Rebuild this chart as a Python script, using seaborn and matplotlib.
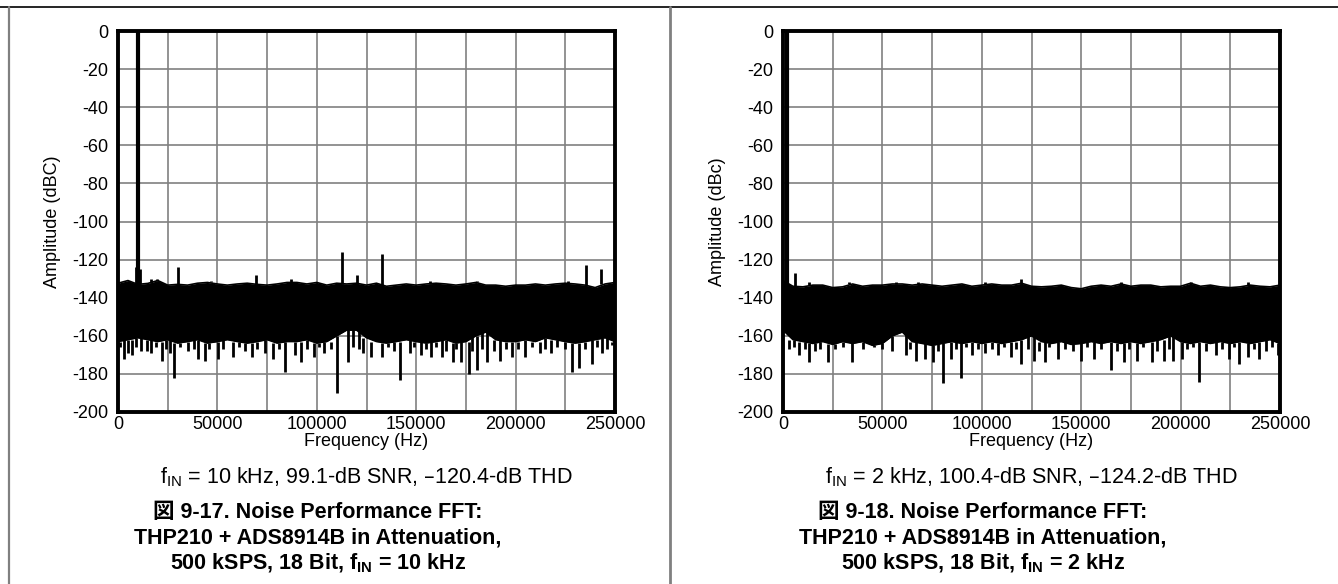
import matplotlib
matplotlib.use("Agg")
import matplotlib.pyplot as plt
from matplotlib.lines import Line2D
import pandas as pd
import seaborn as sns

# frequency grid for the noise band envelope (Hz)
grid_hz = [0, 5000, 10000, 15000, 20000, 25000, 30000, 35000, 40000, 45000,
           50000, 55000, 60000, 65000, 70000, 75000, 80000, 85000, 90000, 95000,
           100000, 105000, 110000, 115000, 120000, 125000, 130000, 135000, 140000, 145000,
           150000, 155000, 160000, 165000, 170000, 175000, 180000, 185000, 190000, 195000,
           200000, 205000, 210000, 215000, 220000, 225000, 230000, 235000, 240000, 245000,
           250000]

# --- fIN = 10 kHz ---
top_10k = [-132.4, -131.0, -133.0, -132.5, -131.0, -133.4, -133.0, -133.4, -132.4, -132.0,
           -132.8, -133.4, -132.8, -132.4, -133.0, -133.4, -132.8, -132.0, -132.0, -132.8,
           -132.0, -133.4, -132.4, -132.8, -132.4, -133.4, -132.4, -134.0, -133.4, -132.8,
           -133.4, -132.8, -132.4, -132.8, -133.4, -132.8, -132.0, -133.4, -133.4, -134.0,
           -133.4, -133.4, -132.8, -133.4, -132.8, -132.4, -132.8, -133.4, -134.7, -132.8,
           -132.0]
low_10k = [-163.0, -162.0, -161.0, -162.0, -163.0, -162.0, -163.8, -163.0, -162.0, -163.8,
           -163.0, -162.0, -163.0, -163.8, -163.0, -162.0, -163.8, -163.0, -163.0, -162.0,
           -163.8, -163.0, -160.0, -157.0, -157.0, -161.0, -163.0, -163.8, -163.0, -162.0,
           -163.0, -163.8, -163.0, -162.0, -163.8, -163.0, -160.0, -158.0, -162.0, -163.0,
           -163.0, -162.0, -163.0, -161.0, -162.0, -163.0, -163.8, -163.0, -162.0, -161.0,
           -163.0]
spur_f_10k = [9000, 11000, 30000, 69400, 112600, 120000, 132800, 235600, 242900,
              3000, 16800, 19600, 47000, 87000, 157000, 180600, 226400]
spur_db_10k = [-124, -125, -124, -128, -116, -128, -117, -123, -125,
               -131, -130, -130, -131, -130, -131, -131, -131]
dip_f_10k = [2800, 4900, 7100, 11400, 14600, 16800, 22100, 26000, 28200, 35000,
             40400, 43600, 50100, 57600, 67300, 73700, 78000, 84000, 88800, 92200,
             98500, 103800, 110300, 115600, 123200, 127500, 132800, 141900, 146800, 152200,
             157600, 162900, 168300, 172600, 176500, 180600, 185500, 192000, 198400, 204900,
             212400, 217800, 228500, 231700, 238200, 243600, 248500,
             1000, 9000, 19000, 24000, 31000, 38000, 46000, 53000, 61000, 64000,
             70000, 81000, 95000, 101000, 107000, 118000, 121000, 136000, 139000, 149000,
             155000, 160000, 165000, 170000, 178000, 183000, 189000, 195000, 201000, 208000,
             215000, 221000, 225000, 235000, 241000, 246000]
dip_db_10k = [-172, -169, -170, -168, -168, -169, -173, -169, -182, -168,
              -172, -173, -172, -171, -171, -169, -172, -179, -170, -174,
              -171, -169, -190, -174, -169, -171, -171, -183, -169, -170,
              -171, -171, -174, -174, -180, -178, -174, -173, -171, -171,
              -169, -169, -179, -177, -175, -169, -165,
              -166, -166, -166, -167, -166, -167, -167, -167, -166, -168,
              -167, -167, -167, -166, -167, -166, -167, -166, -168, -166,
              -167, -166, -168, -167, -168, -167, -168, -167, -167, -166,
              -167, -166, -167, -167, -166, -167]

# --- fIN = 2 kHz ---
top_2k = [-131.0, -134.0, -134.3, -133.4, -133.4, -134.7, -134.3, -132.8, -134.0, -133.4,
          -133.4, -132.8, -132.8, -133.4, -132.8, -133.4, -134.0, -133.4, -132.8, -134.0,
          -133.4, -132.8, -133.4, -133.4, -132.4, -134.0, -134.3, -134.0, -133.4, -134.7,
          -135.3, -134.0, -133.4, -134.0, -132.8, -134.0, -133.4, -133.4, -134.3, -134.0,
          -134.0, -132.4, -134.0, -133.4, -134.3, -134.7, -134.3, -133.4, -134.0, -134.3,
          -133.4]
low_2k = [-157.0, -162.0, -163.0, -164.0, -163.0, -164.5, -163.0, -164.0, -163.0, -165.0,
          -164.0, -160.0, -158.0, -163.0, -164.0, -165.0, -164.0, -163.0, -164.0, -163.0,
          -164.0, -163.0, -164.0, -163.0, -162.0, -160.0, -163.0, -164.0, -163.0, -164.5,
          -164.0, -163.0, -164.0, -163.0, -164.0, -163.0, -164.0, -163.0, -162.0, -160.0,
          -163.0, -164.0, -163.0, -164.0, -163.0, -164.0, -163.0, -164.0, -163.0, -162.0,
          -164.0]
spur_f_2k = [6000, 119800, 13000, 33000, 57000, 68000, 101500, 170000, 205000, 234000]
spur_db_2k = [-127, -130, -132, -132, -132, -132, -132, -132, -132, -132]
dip_f_2k = [3000, 8000, 13300, 18700, 22600, 34900, 45600, 61700, 67100, 71400,
            75700, 80500, 84300, 89700, 95100, 101600, 108000, 114500, 119800, 126300,
            131700, 138100, 150000, 156400, 165000, 171500, 177900, 185500, 191900, 196200,
            200500, 209100, 217700, 224200, 229600, 233900, 239200, 248900,
            5500, 11000, 16000, 26000, 30000, 40000, 50000, 55000, 64000, 78000,
            87000, 92000, 98000, 105000, 111000, 117000, 123000, 129000, 134000, 142000,
            146000, 153000, 160000, 168000, 174000, 181000, 188000, 194000, 203000, 206000,
            213000, 221000, 227000, 237000, 243000, 246000]
dip_db_2k = [-167, -170, -174, -167, -174, -174, -166, -170, -173, -172,
             -174, -185, -172, -182, -170, -169, -170, -171, -175, -173,
             -174, -172, -173, -172, -178, -174, -173, -174, -173, -173,
             -172, -184, -170, -172, -175, -171, -172, -170,
             -166, -167, -168, -167, -166, -167, -167, -168, -167, -168,
             -167, -166, -167, -167, -166, -167, -167, -168, -166, -167,
             -168, -166, -167, -168, -167, -166, -168, -167, -167, -166,
             -168, -167, -166, -167, -168, -166]

panels = [
    dict(f0=10000, top=top_10k, low=low_10k, sf=spur_f_10k, sdb=spur_db_10k,
         df=dip_f_10k, ddb=dip_db_10k, ylabel="Amplitude (dBC)",
         caption=r"$\mathregular{f_{IN}}$ = 10 kHz, 99.1-dB SNR, –120.4-dB THD",
         t1="図 9-17. Noise Performance FFT:",
         t3=r"500 kSPS, 18 Bit, $\mathregular{f_{IN}}$ = 10 kHz"),
    dict(f0=2000, top=top_2k, low=low_2k, sf=spur_f_2k, sdb=spur_db_2k,
         df=dip_f_2k, ddb=dip_db_2k, ylabel="Amplitude (dBc)",
         caption=r"$\mathregular{f_{IN}}$ = 2 kHz, 100.4-dB SNR, –124.2-dB THD",
         t1="図 9-18. Noise Performance FFT:",
         t3=r"500 kSPS, 18 Bit, $\mathregular{f_{IN}}$ = 2 kHz"),
]

sns.set_style("white")
plt.rcParams["font.family"] = ["Liberation Sans", "Noto Sans CJK JP"]
plt.rcParams["axes.unicode_minus"] = False
plt.rcParams["text.color"] = "black"
plt.rcParams["axes.labelcolor"] = "black"
plt.rcParams["xtick.color"] = "black"
plt.rcParams["ytick.color"] = "black"

W, H = 1338, 584
fig = plt.figure(figsize=(W / 100, H / 100), dpi=100)

ax_left = [118, 783]
ax_top, ax_bot, ax_w = 31, 412, 497
title_cx = [318, 983]

for i, p in enumerate(panels):
    ax = fig.add_axes([ax_left[i] / W, 1 - ax_bot / H, ax_w / W, (ax_bot - ax_top) / H])
    df = pd.DataFrame({"freq": grid_hz, "top": p["top"], "low": p["low"]})
    ax.fill_between(df["freq"], df["low"], df["top"], color="black", lw=0, zorder=3)
    sns.lineplot(data=df, x="freq", y="top", color="black", lw=1.2, ax=ax, zorder=3)
    sns.lineplot(data=df, x="freq", y="low", color="black", lw=1.2, ax=ax, zorder=3)
    # spurs and dips
    base_top = pd.Series(p["top"], index=grid_hz).reindex(p["sf"], method="nearest")
    ax.vlines(p["sf"], base_top.values, p["sdb"], color="black", lw=2, zorder=3)
    base_low = pd.Series(p["low"], index=grid_hz).reindex(p["df"], method="nearest")
    ax.vlines(p["df"], base_low.values, p["ddb"], color="black", lw=2, zorder=3)
    ax.vlines([p["f0"]], -140, 0, color="black", lw=3, zorder=3)

    ax.set_xlim(0, 250000)
    ax.set_ylim(-200, 0)
    ax.set_xticks(range(0, 250001, 50000))
    ax.set_xticklabels([str(v) for v in range(0, 250001, 50000)])
    ax.set_xticks(range(25000, 250000, 50000), minor=True)
    ax.set_yticks(range(-200, 1, 20))
    ax.set_yticklabels([str(v) for v in range(-200, 1, 20)])
    ax.grid(True, which="both", color="#808080", lw=1.2, zorder=1)
    ax.tick_params(axis="y", which="both", length=0, labelsize=13, pad=7)
    ax.tick_params(axis="x", which="both", length=0, labelsize=13, pad=3)
    for s in ax.spines.values():
        s.set_color("black")
        s.set_linewidth(2.8)
        s.set_zorder(4)
    ax.set_xlabel("Frequency (Hz)", fontsize=13, labelpad=0)
    ax.set_ylabel(p["ylabel"], fontsize=13, labelpad=8)

    cx = (ax_left[i] + ax_w / 2) / W
    fig.text(cx, 1 - 477 / H, p["caption"], ha="center", va="center", fontsize=15.5)
    tx = title_cx[i] / W
    fig.text(tx, 1 - 512 / H, p["t1"], ha="center", va="center", fontsize=15.5, fontweight="bold")
    fig.text(tx, 1 - 538 / H, "THP210 + ADS8914B in Attenuation,", ha="center", va="center",
             fontsize=15.5, fontweight="bold")
    fig.text(tx, 1 - 563 / H, p["t3"], ha="center", va="center", fontsize=15.5, fontweight="bold")

# outer frame of the figure table
fig.add_artist(Line2D([0, 1], [1 - 7 / H, 1 - 7 / H], color="black", lw=1.2))
fig.add_artist(Line2D([9 / W, 9 / W], [0, 1 - 7 / H], color="#808080", lw=1.6))
fig.add_artist(Line2D([670 / W, 670 / W], [0, 1 - 7 / H], color="#808080", lw=2))

fig.savefig("out.png", dpi=100)
